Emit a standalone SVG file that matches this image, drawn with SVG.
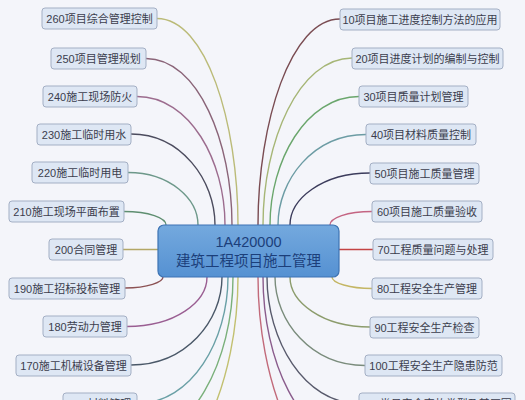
<svg xmlns="http://www.w3.org/2000/svg" width="525" height="400" viewBox="0 0 525 400">
<defs>
<linearGradient id="cg" x1="0" y1="0" x2="0" y2="1">
<stop offset="0" stop-color="#74a9de"/>
<stop offset="1" stop-color="#5591d2"/>
</linearGradient>
<style>
.n rect{fill:#dee7f4;stroke:#a3afc4;stroke-width:1}
.n text{font-family:"Liberation Sans","Noto Sans CJK SC",sans-serif;font-size:11px;fill:#3b3d4d;text-anchor:middle}
.c path{fill:none;stroke-width:1.4}
.ct{font-family:"Liberation Sans","Noto Sans CJK SC",sans-serif;font-size:14.5px;fill:#1c3f7a;text-anchor:middle}
</style>
</defs>
<rect width="525" height="400" fill="#f4f5fa"/>
<g id="connectors" class="c">
<path d="M157,18.5 C206,18.5 238,122 238,225" stroke="#bbbb78"/>
<path d="M146,58.5 C198,58.5 232,142 232,225" stroke="#8a6478"/>
<path d="M137,96.5 C190,96.5 225,161 225,225" stroke="#9c6c8e"/>
<path d="M131,134 C181,134 215,180 215,225" stroke="#4c4c5e"/>
<path d="M128,172.5 C170,172.5 198,199 198,225" stroke="#6d988a"/>
<path d="M124,211.5 C149,211.5 166,218 166,225" stroke="#5e8e70"/>
<path d="M123,249.5 L158,249.5" stroke="#b3a766"/>
<path d="M125,288 C148,288 163,282 163,277" stroke="#8c5254"/>
<path d="M127,326.5 C175,326.5 207,302 207,277" stroke="#9a5e92"/>
<path d="M131,365 C186,365 222,321 222,277" stroke="#4a5868"/>
<path d="M137,403.5 C192,403.5 228,340 228,277" stroke="#6aa0a6"/>
<path d="M130,442 C192,442 233,360 233,277" stroke="#7ab07a"/>
<path d="M140,481 C195,481 238,380 238,277" stroke="#c2c070"/>
<path d="M340,19 C291,19 258,122 258,225" stroke="#7a4c52"/>
<path d="M352,58 C299,58 263,141 263,225" stroke="#a6b676"/>
<path d="M359,96.5 C306,96.5 270,161 270,225" stroke="#6aa66c"/>
<path d="M366,134.5 C313,134.5 278,180 278,225" stroke="#6c9ca4"/>
<path d="M370,173 C322,173 290,199 290,225" stroke="#3c3c5c"/>
<path d="M372,211.5 C347,211.5 330,218 330,225" stroke="#c46482"/>
<path d="M339,249.5 L373,249.5" stroke="#c44444"/>
<path d="M372,288.5 C350,288.5 332,283 332,277" stroke="#c4b664"/>
<path d="M370,327 C322,327 290,302 290,277" stroke="#8c9c6c"/>
<path d="M365,365.5 C311,365.5 275,321 275,277" stroke="#7a8c7c"/>
<path d="M359,403.5 C304,403.5 267,340 267,277" stroke="#585a6c"/>
<path d="M355,442 C300,442 263,360 263,277" stroke="#8a5c8c"/>
<path d="M350,481 C298,481 258,380 258,277" stroke="#c26a7a"/>
</g>
<g id="center">
<rect x="158" y="225" width="181" height="52" rx="6" fill="url(#cg)" stroke="#3d73b3" stroke-width="1.2"/>
<text class="ct" x="248.5" y="247">1A420000</text>
<text class="ct" x="248.5" y="266">建筑工程项目施工管理</text>
</g>
<g id="n260" class="n"><rect x="42" y="8" width="115" height="21" rx="3"/><text x="99.5" y="22.5">260项目综合管理控制</text></g>
<g id="n250" class="n"><rect x="51" y="48" width="95" height="21" rx="3"/><text x="98.5" y="62.5">250项目管理规划</text></g>
<g id="n240" class="n"><rect x="43" y="86" width="94" height="21" rx="3"/><text x="90" y="100.5">240施工现场防火</text></g>
<g id="n230" class="n"><rect x="37" y="124" width="94" height="21" rx="3"/><text x="84" y="138.5">230施工临时用水</text></g>
<g id="n220" class="n"><rect x="32" y="162" width="96" height="21" rx="3"/><text x="80" y="176.5">220施工临时用电</text></g>
<g id="n210" class="n"><rect x="9" y="201" width="115" height="21" rx="3"/><text x="66.5" y="215.5">210施工现场平面布置</text></g>
<g id="n200" class="n"><rect x="49" y="239" width="74" height="21" rx="3"/><text x="86" y="253.5">200合同管理</text></g>
<g id="n190" class="n"><rect x="9" y="278" width="116" height="21" rx="3"/><text x="67" y="292.5">190施工招标投标管理</text></g>
<g id="n180" class="n"><rect x="43" y="316" width="84" height="21" rx="3"/><text x="85" y="330.5">180劳动力管理</text></g>
<g id="n170" class="n"><rect x="16" y="355" width="115" height="21" rx="3"/><text x="73.5" y="369.5">170施工机械设备管理</text></g>
<g id="n160" class="n"><rect x="63" y="393" width="74" height="21" rx="3"/><text x="100" y="407.5">160材料管理</text></g>
<g id="n10" class="n"><rect x="340" y="9" width="160" height="21" rx="3"/><text x="420" y="23.5">10项目施工进度控制方法的应用</text></g>
<g id="n20" class="n"><rect x="352" y="48" width="151" height="21" rx="3"/><text x="427.5" y="62.5">20项目进度计划的编制与控制</text></g>
<g id="n30" class="n"><rect x="359" y="86" width="109" height="21" rx="3"/><text x="413.5" y="100.5">30项目质量计划管理</text></g>
<g id="n40" class="n"><rect x="366" y="124" width="110" height="21" rx="3"/><text x="421" y="138.5">40项目材料质量控制</text></g>
<g id="n50" class="n"><rect x="370" y="163" width="109" height="21" rx="3"/><text x="424.5" y="177.5">50项目施工质量管理</text></g>
<g id="n60" class="n"><rect x="372" y="201" width="110" height="21" rx="3"/><text x="427" y="215.5">60项目施工质量验收</text></g>
<g id="n70" class="n"><rect x="373" y="239" width="120" height="21" rx="3"/><text x="433" y="253.5">70工程质量问题与处理</text></g>
<g id="n80" class="n"><rect x="372" y="278" width="110" height="21" rx="3"/><text x="427" y="292.5">80工程安全生产管理</text></g>
<g id="n90" class="n"><rect x="370" y="317" width="109" height="21" rx="3"/><text x="424.5" y="331.5">90工程安全生产检查</text></g>
<g id="n100" class="n"><rect x="365" y="355" width="137" height="21" rx="3"/><text x="433.5" y="369.5">100工程安全生产隐患防范</text></g>
<g id="n110" class="n"><rect x="359" y="393" width="156" height="21" rx="3"/><text x="437" y="407.5">110常见安全事故类型及其原因</text></g>
</svg>
